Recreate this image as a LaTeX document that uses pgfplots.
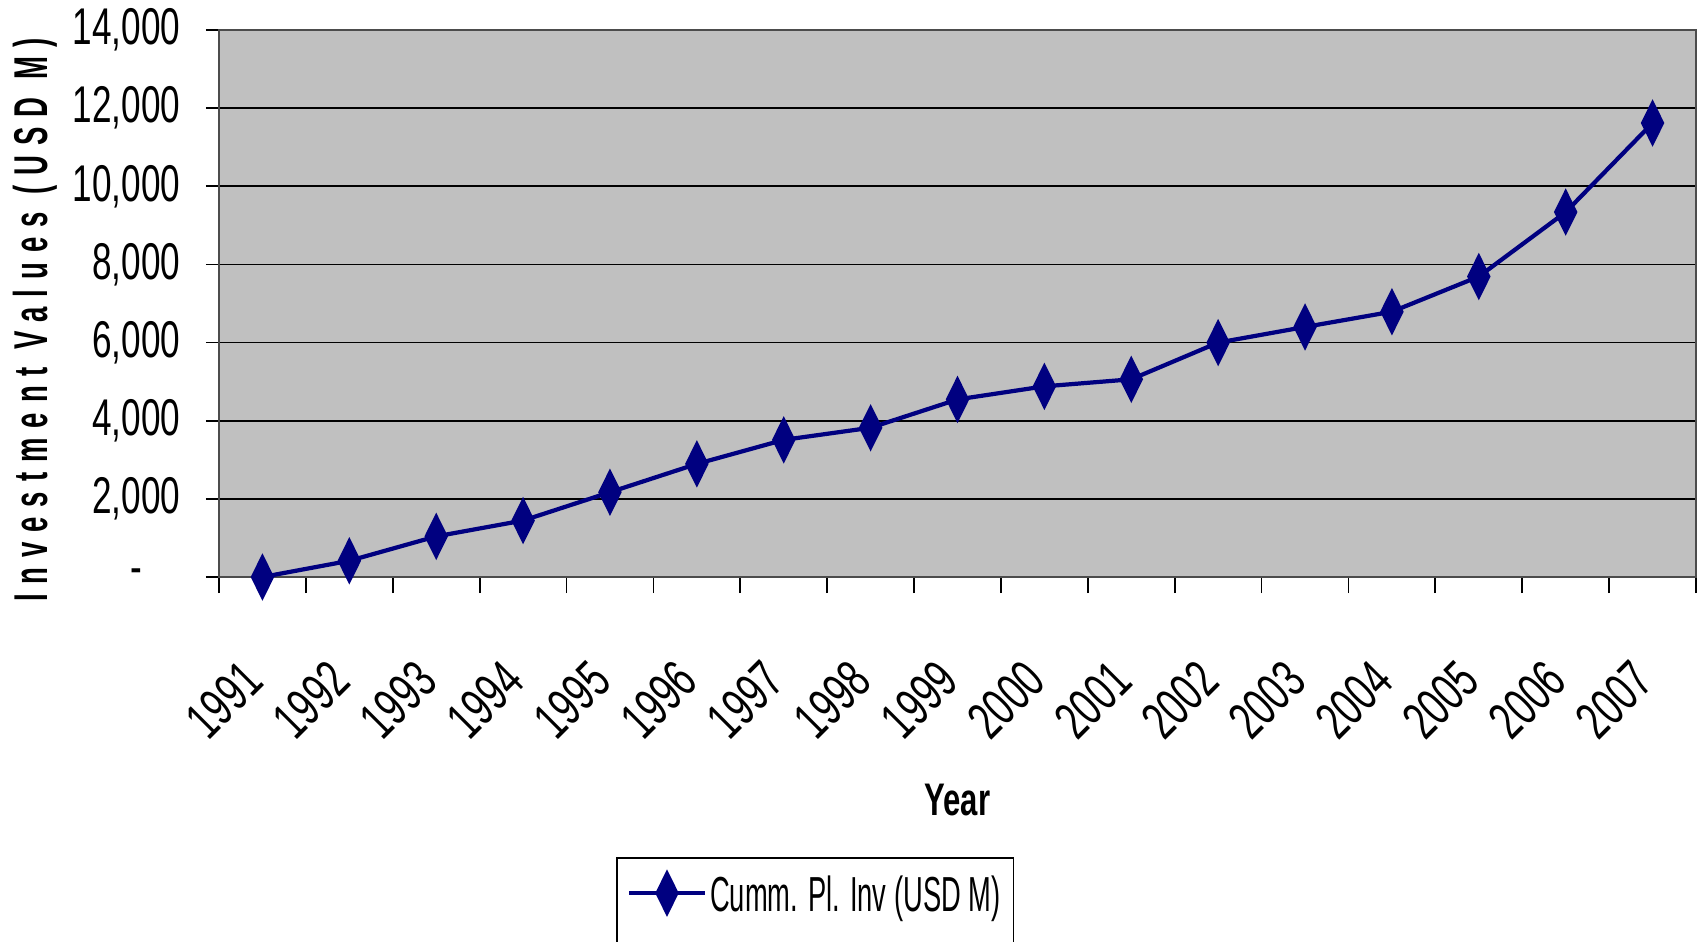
\documentclass[border=0pt]{standalone}
\usepackage{fontspec}
\setmainfont{Liberation Sans}[FakeStretch=0.68]
\newfontfamily\legfont{Liberation Sans}[FakeStretch=0.555]
\newfontfamily\labfont{Liberation Sans}[FakeStretch=0.58, LetterSpace=21]
\usepackage{pgfplots}
\pgfplotsset{compat=1.18}
\definecolor{navy}{RGB}{0,0,128}
\definecolor{plotgray}{RGB}{192,192,192}
\begin{document}
\begin{tikzpicture}
\begin{axis}[
  at={(0,0)}, anchor=south west,
  width=147.7mm, height=54.7mm, scale only axis,
  xmin=-0.5, xmax=16.5, ymin=0, ymax=14000,
  scaled y ticks=false,
  axis background/.style={fill=plotgray},
  axis line style={draw=gray!60!black, line width=0.7pt},
  ymajorgrids, major grid style={black, line width=0.5pt},
  xtick={0,1,2,3,4,5,6,7,8,9,10,11,12,13,14,15,16},
  xticklabels={1991,1992,1993,1994,1995,1996,1997,1998,1999,2000,2001,2002,2003,2004,2005,2006,2007},
  minor xtick={-0.5,0.5,1.5,2.5,3.5,4.5,5.5,6.5,7.5,8.5,9.5,10.5,11.5,12.5,13.5,14.5,15.5,16.5},
  ytick={0,2000,4000,6000,8000,10000,12000,14000},
  yticklabels={{-\hspace*{3.8mm}},{2,000},{4,000},{6,000},{8,000},{10,000},{12,000},{14,000}},
  tick align=outside, tick pos=left,
  major tick length=1.3mm, minor tick length=1.6mm,
  tick style={black, line width=0.5pt},
  major x tick style={draw=none},
  tick label style={font=\fontsize{14.7}{17}\selectfont},
  /pgf/number format/assume math mode=true,
  yticklabel style={anchor=east, inner sep=0pt, xshift=-2.5mm},
  xticklabel style={xshift=-2.3mm, yshift=-6.7mm, rotate=45, anchor=north east, inner sep=0pt, font=\fontsize{15.2}{17}\selectfont},
  xlabel={Year},
  xlabel style={at={(axis description cs:0.5,-0.408)}, anchor=center, font=\bfseries\fontsize{13}{16}\selectfont},
  ylabel={Investment Values (USD M)},
  ylabel style={at={(axis description cs:-0.1245,0.47)}, anchor=center, font=\labfont\bfseries\fontsize{13.5}{15}\selectfont},
  legend style={at={(axis description cs:0.2688,-0.512)}, anchor=north west, draw=black, line width=0.5pt, fill=white,
    font=\legfont\fontsize{14}{16}\selectfont, inner xsep=1mm, inner ysep=1.45mm,
    cells={anchor=base west}, nodes={inner sep=0.3mm, text depth=10mm}},
  legend image code/.code={\draw[#1, mark repeat=2, mark phase=2] plot coordinates {(0mm,1.8mm) (3.8mm,1.8mm) (7.6mm,1.8mm)};},
]
\addplot[color=navy, line width=1.2pt, mark=diamond*, mark size=1.9mm, mark options={xscale=0.66, fill=navy, draw=navy}]
coordinates {
(0,0) (1,415) (2,1040) (3,1445) (4,2170) (5,2895) (6,3510) (7,3820) (8,4545)
(9,4880) (10,5060) (11,6000) (12,6400) (13,6790) (14,7690) (15,9340) (16,11620)
};
\addlegendentry{Cumm. Pl. Inv (USD M)}
\end{axis}
\pgfresetboundingbox
\useasboundingbox (-21.9mm,-36.4mm) rectangle (148.2mm,57.7mm);
\end{tikzpicture}
\end{document}
